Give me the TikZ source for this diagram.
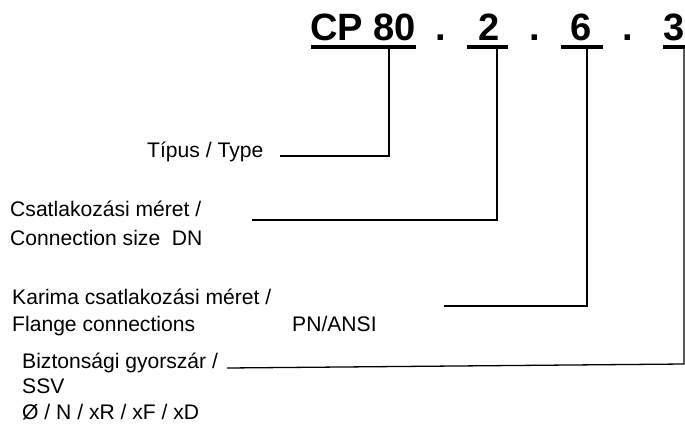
\documentclass[tikz,border=0pt]{standalone}
\usepackage{fontspec}
\setmainfont{Liberation Sans}
\tikzstyle{code} = [font=\fontsize{32.5}{38}\selectfont\bfseries, inner sep=0pt, anchor=base]
\tikzstyle{desc} = [font=\fontsize{18}{22}\selectfont, inner sep=0pt, anchor=base west]
\tikzstyle{bar} = [line width=3.2pt]
\tikzstyle{leader} = [line width=1.1pt]

\begin{document}
\begin{tikzpicture}[x=0.03cm, y=-0.03cm]
\useasboundingbox (0, 0) rectangle (685, 423);

% type code
\node at (310, 41) (cp) [code, anchor=base west] {CP 80};
\node at (441, 41) (dot1) [code] {.};
\node at (489, 41) (two) [code] {2};
\node at (535, 41) (dot2) [code] {.};
\node at (581, 41) (six) [code] {6};
\node at (628, 41) (dot3) [code] {.};
\node at (663, 41) (three) [code, anchor=base west] {3};

\draw [bar] (311, 47) -- (416, 47);
\draw [bar] (467, 47) -- (508, 47);
\draw [bar] (561, 47) -- (603, 47);
\draw [bar] (663, 47) -- (685, 47);

% descriptions
\node at (147, 157) (typ) [desc] {Típus / Type};
\node at (10, 216) (size1) [desc] {Csatlakozási méret /};
\node at (10, 245) (size2) [desc] {Connection size\ \ DN};
\node at (12, 304) (flange1) [desc] {Karima csatlakozási méret /};
\node at (12, 331) (flange2) [desc] {Flange connections};
\node at (292, 331) (pn) [desc] {PN/ANSI};
\node at (22, 368) (ssv1) [desc] {Biztonsági gyorszár /};
\node at (22, 393) (ssv2) [desc] {SSV};
\node at (22, 419) (ssv3) [desc] {Ø / N / xR / xF / xD};

\coordinate (cp-tap) at (389, 47);
\coordinate (two-tap) at (497, 47);
\coordinate (six-tap) at (587, 47);
\coordinate (three-tap) at (684, 47);
\coordinate (typ-end) at (280, 156);
\coordinate (size-end) at (252, 220);
\coordinate (flange-end) at (444, 306);
\coordinate (ssv-end) at (227, 368);
\coordinate (ssv-bend) at (684, 364);

\draw [leader] (typ-end) -| (cp-tap);
\draw [leader] (size-end) -| (two-tap);
\draw [leader] (flange-end) -| (six-tap);
\draw [leader] (ssv-end) -- (ssv-bend) -- (three-tap);

\end{tikzpicture}
\end{document}
